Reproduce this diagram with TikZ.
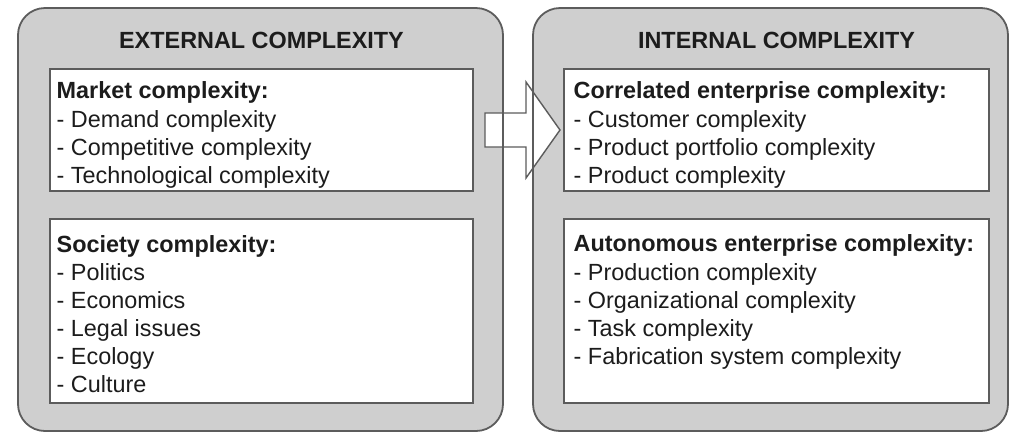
\documentclass[tikz,border=0pt]{standalone}
\usepackage{fontspec}
\setmainfont{Liberation Sans}
\definecolor{panelfill}{HTML}{CFCFCF}
\definecolor{rim}{HTML}{5C5C5C}
\definecolor{ink}{HTML}{1C1C1C}

\begin{document}
\begin{tikzpicture}[x=1pt,y=-1pt,
  panelbg/.style={fill=panelfill, rounded corners=27pt},
  panelrim/.style={draw=rim, line width=1.8pt, rounded corners=27pt},
  listbox/.style={draw=rim, fill=white, line width=1.8pt},
  txt/.style={anchor=base west, inner sep=0pt, text=ink, font=\fontsize{23.4}{28}\selectfont},
  head/.style={txt, font=\fontsize{23.4}{28}\selectfont\bfseries},
  title/.style={anchor=base, inner sep=0pt, text=ink, font=\fontsize{23.4}{28}\selectfont\bfseries},
  blockarrow/.style={draw=rim, fill=white, line width=1.4pt, line join=miter}]
\useasboundingbox (0,0) rectangle (1010,432);

% grey panels
\fill[panelbg] (18,8) rectangle (503,431);
\fill[panelbg] (533,8) rectangle (1008,431);

% block arrow from external to internal side
\draw[blockarrow] (485,113) -- (526,113) -- (526,82) -- (560,130)
  -- (526,178) -- (526,147) -- (485,147) -- cycle;

% panel outlines
\draw[panelrim] (18,8) rectangle (503,431);
\draw[panelrim] (533,8) rectangle (1008,431);

% white list boxes
\draw[listbox] (50,69) rectangle (473,191);
\draw[listbox] (50,219) rectangle (473,403);
\draw[listbox] (564,69) rectangle (989,191);
\draw[listbox] (564,219) rectangle (989,403);

% titles
\node[title] (exttitle) at (261.5,48) {EXTERNAL COMPLEXITY};
\node[title] (inttitle) at (776.5,48) {INTERNAL COMPLEXITY};

% external: market
\node[head] (mk0) at (56.5,98) {Market complexity:};
\node[txt] (mk1) at (56.5,127) {- Demand complexity};
\node[txt] (mk2) at (56.5,155) {- Competitive complexity};
\node[txt] (mk3) at (56.5,183) {- Technological complexity};

% external: society
\node[head] (so0) at (56.5,252) {Society complexity:};
\node[txt] (so1) at (56.5,280) {- Politics};
\node[txt] (so2) at (56.5,308) {- Economics};
\node[txt] (so3) at (56.5,336) {- Legal issues};
\node[txt] (so4) at (56.5,364) {- Ecology};
\node[txt] (so5) at (56.5,392) {- Culture};

% internal: correlated
\node[head] (co0) at (573.5,98) {Correlated enterprise complexity:};
\node[txt] (co1) at (573.5,127) {- Customer complexity};
\node[txt] (co2) at (573.5,155) {- Product portfolio complexity};
\node[txt] (co3) at (573.5,183) {- Product complexity};

% internal: autonomous
\node[head] (au0) at (573.5,251) {Autonomous enterprise complexity:};
\node[txt] (au1) at (573.5,280) {- Production complexity};
\node[txt] (au2) at (573.5,308) {- Organizational complexity};
\node[txt] (au3) at (573.5,336) {- Task complexity};
\node[txt] (au4) at (573.5,364) {- Fabrication system complexity};
\end{tikzpicture}
\end{document}
